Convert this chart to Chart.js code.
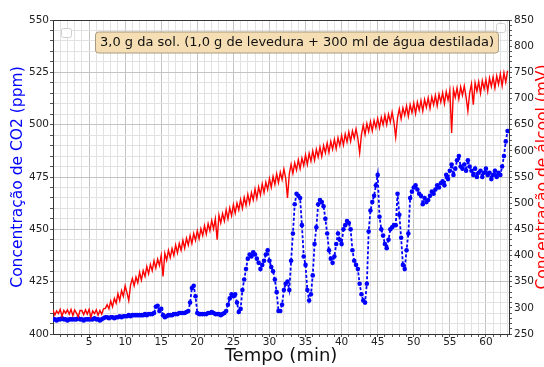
<!DOCTYPE html>
<html>
<head>
<meta charset="utf-8">
<script src="https://cdn.jsdelivr.net/npm/chart.js@4"></script>
<style>
  html, body { margin: 0; padding: 0; background: #fff; }
  #wrap { width: 544px; height: 367px; }
</style>
</head>
<body>
<div id="wrap"><canvas id="fermentChart" width="544" height="367"></canvas></div>
<script>
// leituras a cada 0,25 min (15 s)
const sampleStep = 0.25;

// CO2 (ppm), eixo esquerdo
const co2 = [
  407, 407, 406.5, 407,   407, 407.5, 407, 407,   406.5, 407, 407, 407,   407, 407, 407.5, 407,
  407, 406.5, 407, 407,   407, 407, 407, 407.5,   407, 407, 406.5, 407,   407.5, 408, 408, 407.5,
  408, 408, 407.5, 408,   408, 408.5, 408, 408.5, 408.5, 408.5, 409, 408.5, 409, 409, 409, 409,
  409, 409, 409, 409.5,   409, 409.5, 409.5, 409.5, 410, 413, 413.5, 411,  412, 409, 408, 408.5,
  409, 409, 409, 409.5,   409.5, 409.5, 410, 410, 410, 410, 410.5, 411,    415, 422, 423, 418,
  410, 409.5, 409.5, 409.5, 409.5, 409.5, 410, 410, 410.5, 410, 409.5, 409.5, 409.5, 409, 409.5, 410,
  411, 414, 417, 419,     418, 419, 415, 410.5,   412, 421, 426, 431,     436, 438, 437, 439,
  438, 436, 434, 431,     433, 435, 438, 440,     435, 432, 430, 426,     420, 411, 411, 414,
  421, 424, 425, 421,     435, 448, 462, 467,     466, 465, 452, 437,     433, 421, 416, 419,
  428, 443, 451, 462,     464, 463, 461, 455,     448, 440, 436, 434,     437, 443, 448, 445,
  443, 450, 452, 454,     453, 450, 440, 435,     433, 431, 424, 419,     416, 415, 424, 449,
  459, 463, 466, 471,     476, 456, 450, 447,     443, 441, 445, 450,     451, 452, 452, 467,
  457, 446, 433, 431,     440, 448, 465, 468,     470, 471, 469, 467,     466, 462, 465, 463,
  464, 466, 468, 467,     469, 471, 470, 472,     473, 471, 476, 474,     478, 481, 476, 479,
  483, 485, 480, 479,     481, 478, 483, 480,     478, 476, 479, 475,     477, 478, 475, 477,
  479, 476, 477, 474,     476, 478, 475, 477,     476, 480, 485, 492,
  497
];

// álcool (mV), eixo direito
const alcool = [
  296, 286, 294, 289,  297, 284, 295, 290,  296, 288, 297, 285,  296, 290, 283, 295,
  295, 287, 296, 288,  297, 282, 294, 289,  296, 286, 295, 288,  298, 299, 306, 298,
  313, 302, 318, 309,  327, 314, 333, 322,  342, 329, 314, 344,  356, 342, 359, 348,
  368, 353, 371, 360,  379, 365, 383, 371,  390, 376, 393, 381,  400, 360, 404, 391,
  410, 396, 413, 400,  420, 405, 423, 410,  429, 414, 433, 420,  438, 423, 442, 429,
  447, 432, 451, 438,  457, 441, 461, 447,  467, 451, 470, 430,  477, 462, 480, 466,
  487, 470, 491, 476,  497, 481, 500, 487,  507, 490, 511, 496,  517, 500, 520, 506,
  527, 509, 531, 516,  537, 520, 540, 526,  547, 530, 551, 536,  556, 539, 559, 545,
  565, 548, 510, 556,  574, 557, 577, 563,  583, 566, 586, 572,  592, 574, 595, 580,
  600, 582, 603, 588,  607, 589, 610, 596,  615, 597, 618, 603,  622, 604, 625, 610,
  629, 611, 632, 617,  636, 618, 638, 624,  642, 624, 596, 631,  649, 631, 652, 637,
  656, 638, 658, 644,  662, 644, 664, 650,  668, 650, 670, 655,  674, 655, 626, 663,
  680, 661, 682, 668,  686, 666, 688, 673,  691, 671, 693, 678,  696, 676, 698, 683,
  701, 681, 703, 688,  706, 686, 708, 693,  711, 690, 713, 697,  715, 634, 717, 702,
  720, 699, 722, 706,  724, 703, 676, 711,  728, 688, 730, 714,  732, 710, 734, 718,
  736, 714, 739, 723,  741, 720, 743, 727,  747, 724, 749, 731,
  753
];

const tempo = co2.map((_, i) => i * sampleStep);

// marcas principais dos eixos (as secundárias ficam sem rótulo)
const xMajor = [5, 10, 15, 20, 25, 30, 35, 40, 45, 50, 55, 60];
const co2Major = [400, 425, 450, 475, 500, 525, 550];
const alcoolMajor = [250, 300, 350, 400, 450, 500, 550, 600, 650, 700, 750, 800, 850];

const titulo = '3,0 g da sol. (1,0 g de levedura + 300 ml de água destilada)';

const majorGrid = '#c4c4c4';
const minorGrid = '#e2e2e2';
const tickFont = { family: 'DejaVu Sans', size: 10.5, lineHeight: 1 };

function steps(from, to, step) {
  const out = [];
  for (let v = from; v <= to; v += step) out.push({ value: v });
  return out;
}

function roundRect(ctx, x, y, w, h, r) {
  ctx.beginPath();
  ctx.moveTo(x + r, y);
  ctx.lineTo(x + w - r, y);
  ctx.quadraticCurveTo(x + w, y, x + w, y + r);
  ctx.lineTo(x + w, y + h - r);
  ctx.quadraticCurveTo(x + w, y + h, x + w - r, y + h);
  ctx.lineTo(x + r, y + h);
  ctx.quadraticCurveTo(x, y + h, x, y + h - r);
  ctx.lineTo(x, y + r);
  ctx.quadraticCurveTo(x, y, x + r, y);
  ctx.closePath();
}

// moldura superior, caixas de legenda vazias, caixa de título e rótulo do eixo direito
const extras = {
  id: 'extras',
  afterDraw(chart) {
    const ctx = chart.ctx;
    const a = chart.chartArea;
    ctx.save();

    ctx.strokeStyle = '#333';
    ctx.lineWidth = 1;
    ctx.beginPath();
    ctx.moveTo(a.left, a.top + 0.5);
    ctx.lineTo(a.right, a.top + 0.5);
    ctx.stroke();

    ctx.fillStyle = 'rgba(255,255,255,0.85)';
    ctx.strokeStyle = '#cfcfcf';
    roundRect(ctx, a.left + 8.5, a.top + 8.5, 10, 9, 2);
    ctx.fill(); ctx.stroke();
    roundRect(ctx, a.right - 12.5, a.top + 3.5, 9, 9, 2);
    ctx.fill(); ctx.stroke();

    ctx.font = '13px "DejaVu Sans"';
    const tw = ctx.measureText(titulo).width;
    const cx = 297, cy = 42.5;
    roundRect(ctx, cx - tw / 2 - 4.5, cy - 10.5, tw + 9, 21, 3);
    ctx.fillStyle = '#f5deb3';
    ctx.fill();
    ctx.strokeStyle = '#a89a80';
    ctx.stroke();
    ctx.fillStyle = '#111';
    ctx.textAlign = 'center';
    ctx.textBaseline = 'middle';
    ctx.fillText(titulo, cx, cy + 0.5);

    ctx.translate(543, (a.top + a.bottom) / 2);
    ctx.rotate(-Math.PI / 2);
    ctx.font = '15.5px "DejaVu Sans"';
    ctx.fillStyle = '#ff0000';
    ctx.fillText('Concentração de álcool (mV)', 0, 0);
    ctx.restore();
  }
};

new Chart(document.getElementById('fermentChart'), {
  type: 'line',
  data: {
    datasets: [
      {
        label: 'Álcool',
        data: tempo.map((t, i) => ({ x: t, y: alcool[i] })),
        yAxisID: 'y2',
        borderColor: '#ff0000',
        borderWidth: 1.4,
        pointRadius: 0,
        tension: 0
      },
      {
        label: 'CO2',
        data: tempo.map((t, i) => ({ x: t, y: co2[i] })),
        yAxisID: 'y',
        borderColor: '#0000ff',
        backgroundColor: '#0000ff',
        borderWidth: 1.8,
        borderDash: [3, 2],
        pointRadius: 2.3,
        pointBorderWidth: 0,
        tension: 0
      }
    ]
  },
  options: {
    responsive: false,
    animation: false,
    layout: { padding: { top: 20, left: 0, right: 0, bottom: 0 } },
    scales: {
      x: {
        type: 'linear',
        min: 0,
        max: 63.2,
        afterBuildTicks: s => { s.ticks = steps(1, 63, 1); },
        afterFit: s => { s.height = 33; },
        ticks: {
          autoSkip: false,
          maxRotation: 0,
          padding: 0,
          color: '#222',
          font: tickFont,
          callback: v => xMajor.includes(v) ? v : ''
        },
        grid: {
          color: c => c.tick && xMajor.includes(c.tick.value) ? majorGrid : minorGrid,
          tickColor: '#555',
          tickLength: 3
        },
        border: { color: '#333' },
        title: {
          display: true,
          text: 'Tempo (min)',
          color: '#111',
          font: { family: 'DejaVu Sans', size: 18 },
          padding: { top: 0, bottom: 0 }
        }
      },
      y: {
        position: 'left',
        min: 400,
        max: 550,
        afterBuildTicks: s => { s.ticks = steps(400, 550, 5); },
        afterFit: s => { s.width = 53; },
        ticks: {
          autoSkip: false,
          padding: 1,
          color: '#222',
          font: tickFont,
          callback: v => co2Major.includes(v) ? v : ''
        },
        grid: {
          color: c => c.tick && co2Major.includes(c.tick.value) ? majorGrid : minorGrid,
          tickColor: '#555',
          tickLength: 3
        },
        border: { color: '#333' },
        title: {
          display: true,
          text: 'Concentração de CO2 (ppm)',
          color: '#0000ff',
          font: { family: 'DejaVu Sans', size: 15.5 },
          padding: { top: 9, bottom: 0 }
        }
      },
      y2: {
        position: 'right',
        min: 250,
        max: 850,
        afterBuildTicks: s => { s.ticks = steps(250, 850, 10); },
        afterFit: s => { s.width = 35; },
        ticks: {
          autoSkip: false,
          padding: 2,
          color: '#222',
          font: tickFont,
          callback: v => alcoolMajor.includes(v) ? v : ''
        },
        grid: {
          drawOnChartArea: false,
          tickColor: '#555',
          tickLength: 3
        },
        border: { color: '#333' }
      }
    },
    plugins: {
      legend: { display: false },
      tooltip: { enabled: false }
    }
  },
  plugins: [extras]
});
</script>
</body>
</html>
